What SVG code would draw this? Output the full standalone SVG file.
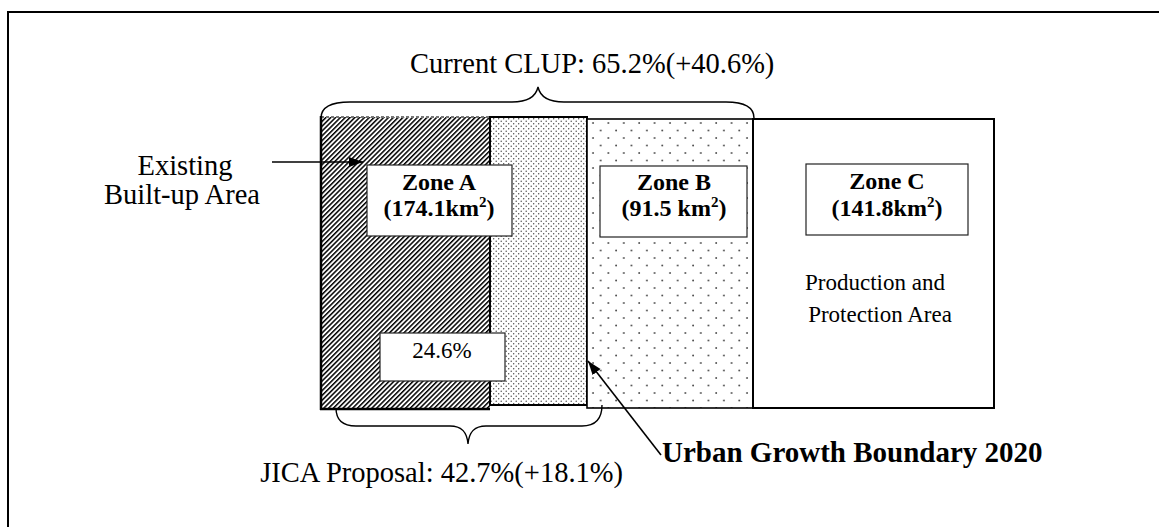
<svg xmlns="http://www.w3.org/2000/svg" width="1159" height="527" viewBox="0 0 1159 527">
<style>
  .t { font-family: "Liberation Serif", "Times New Roman", serif; fill: #000; }
  .b { font-family: "Liberation Serif", "Times New Roman", serif; font-weight: bold; fill: #000; }
  .box { fill: #fff; stroke: #222; stroke-width: 1.2; }
  .conn { fill: none; stroke: #000; stroke-width: 1.6; }
  .brace { fill: none; stroke: #000; stroke-width: 1.4; }
</style>
<defs>
  <pattern id="hatch" patternUnits="userSpaceOnUse" width="3.4" height="3.4" patternTransform="rotate(45)">
    <rect width="3.4" height="3.4" fill="#fff"/>
    <rect width="1.5" height="3.4" fill="#000"/>
  </pattern>
  <pattern id="dense" patternUnits="userSpaceOnUse" width="5" height="5">
    <rect width="5" height="5" fill="#fff"/>
    <circle cx="1.2" cy="1.2" r="0.7" fill="#444"/>
    <circle cx="3.7" cy="3.7" r="0.7" fill="#444"/>
  </pattern>
  <pattern id="sparse" patternUnits="userSpaceOnUse" width="15.4" height="15" x="590" y="119">
    <rect width="15.4" height="15" fill="#fff"/>
    <circle cx="3" cy="4" r="0.9" fill="#444"/>
    <circle cx="10.7" cy="11.5" r="0.9" fill="#444"/>
  </pattern>
  <marker id="arrow" markerUnits="userSpaceOnUse" markerWidth="15" markerHeight="11" refX="14" refY="5" orient="auto">
    <path d="M0,0 L14,5 L0,10 Z" fill="#000"/>
  </marker>
</defs>

<rect id="frame" x="8" y="12" width="1200" height="600" fill="none" stroke="#000" stroke-width="2"/>

<g id="zone-a-area">
  <rect x="321" y="117" width="169" height="292" fill="url(#hatch)"/>
  <line x1="321" y1="117" x2="490" y2="117" stroke="#777" stroke-width="2" stroke-dasharray="3,2"/>
  <line x1="321" y1="116" x2="321" y2="410" stroke="#000" stroke-width="2.5"/>
  <line x1="320" y1="409" x2="490" y2="409" stroke="#000" stroke-width="2.5"/>
</g>
<g id="ugb-band">
  <rect x="490" y="117" width="97" height="288" fill="url(#dense)" stroke="#000" stroke-width="2"/>
</g>
<g id="zone-b-area">
  <rect x="587" y="119" width="166" height="289" fill="url(#sparse)" stroke="#000" stroke-width="1.6"/>
</g>
<g id="zone-c-area">
  <rect x="753" y="119" width="241" height="289" fill="#fff" stroke="#000" stroke-width="2"/>
  <text class="t" font-size="23" x="875" y="290" text-anchor="middle">Production and</text>
  <text class="t" font-size="23" x="880" y="322" text-anchor="middle">Protection Area</text>
</g>

<g id="zone-a-label">
  <rect class="box" x="367" y="165" width="145" height="71"/>
  <text class="b" font-size="24" x="439" y="190" text-anchor="middle">Zone A</text>
  <text class="b" font-size="24" x="439" y="216" text-anchor="middle">(174.1km<tspan font-size="15" dy="-9">2</tspan><tspan dy="9">)</tspan></text>
</g>
<g id="zone-a-pct">
  <rect class="box" x="380" y="333" width="125" height="48" stroke="#888"/>
  <text class="t" font-size="23" x="442" y="358" text-anchor="middle">24.6%</text>
</g>
<g id="zone-b-label">
  <rect class="box" x="600" y="166" width="147" height="71"/>
  <text class="b" font-size="24" x="674" y="190" text-anchor="middle">Zone B</text>
  <text class="b" font-size="24" x="674" y="216" text-anchor="middle">(91.5 km<tspan font-size="15" dy="-9">2</tspan><tspan dy="9">)</tspan></text>
</g>
<g id="zone-c-label">
  <rect class="box" x="806" y="164" width="162" height="71"/>
  <text class="b" font-size="24" x="887" y="189" text-anchor="middle">Zone C</text>
  <text class="b" font-size="24" x="887" y="216" text-anchor="middle">(141.8km<tspan font-size="15" dy="-9">2</tspan><tspan dy="9">)</tspan></text>
</g>

<g id="current-clup">
  <path class="brace" d="M321,118 C321,108 330,102 350,102 L512,102 C528,102 536,96 538,87 C540,96 548,102 564,102 L726,102 C746,102 754,108 754,118"/>
  <text class="t" font-size="28.5" x="410" y="73">Current CLUP: 65.2%(+40.6%)</text>
</g>
<g id="jica-proposal">
  <path class="brace" d="M336,408 C336,419 342,426 356,426 L450,426 C462,426 467,432 468,444 C469,432 474,426 486,426 L582,426 C596,426 602,419 602,405"/>
  <text class="t" font-size="28.5" x="623" y="482" text-anchor="end">JICA Proposal: 42.7%(+18.1%)</text>
</g>
<g id="existing-label">
  <text class="t" font-size="28.5" x="185" y="175" text-anchor="middle">Existing</text>
  <text class="t" font-size="28.5" x="182" y="204" text-anchor="middle">Built-up Area</text>
</g>
<g id="ugb-label">
  <text class="b" font-size="29" x="662" y="462">Urban Growth Boundary 2020</text>
</g>

<g id="connectors">
  <line class="conn" x1="272" y1="162" x2="363" y2="162" marker-end="url(#arrow)"/>
  <line class="conn" x1="661" y1="455" x2="588" y2="361" marker-end="url(#arrow)"/>
</g>
</svg>
